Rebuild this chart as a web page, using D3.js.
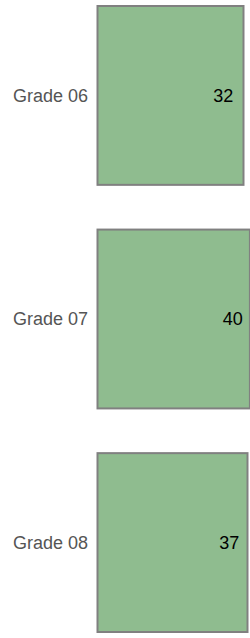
<!DOCTYPE html>
<html>
<head>
<meta charset="utf-8">
<script src="https://cdn.jsdelivr.net/npm/d3@7"></script>
<style>
  body { margin: 0; background: #fff; }
  svg { display: block; font-family: "Liberation Sans", Arial, sans-serif; }
</style>
</head>
<body>
<div id="chart"></div>
<script>
const grades = ["Grade 06", "Grade 07", "Grade 08"];
const counts = [32, 40, 37];

const width = 250, height = 638;
const barLeft = 97.5;

const svg = d3.select("#chart")
    .append("svg")
    .attr("width", width)
    .attr("height", height);

const y = d3.scaleBand()
    .domain(grades)
    .range([6, 632])
    .paddingInner(0.2)
    .paddingOuter(0);

// bar end position
const x = d3.scaleLinear()
    .domain([0, 40])
    .range([217.9, 249.9]);

// value label right edge
const xl = d3.scaleLinear()
    .domain([0, 40])
    .range([195.7, 242.7]);

const data = grades.map((g, i) => ({ grade: g, count: counts[i] }));

svg.selectAll("rect.bar")
    .data(data)
    .join("rect")
    .attr("class", "bar")
    .attr("x", barLeft)
    .attr("y", d => y(d.grade))
    .attr("width", d => x(d.count) - barLeft)
    .attr("height", y.bandwidth())
    .style("fill", "darkseagreen")
    .style("stroke", "#808080")
    .style("stroke-width", 2);

svg.selectAll("text.val")
    .data(data)
    .join("text")
    .attr("class", "val")
    .attr("x", d => xl(d.count))
    .attr("y", d => y(d.grade) + y.bandwidth() / 2)
    .attr("dy", "0.35em")
    .style("text-anchor", "end")
    .style("font-size", "18px")
    .style("fill", "#000")
    .text(d => d.count);

svg.selectAll("text.cat")
    .data(data)
    .join("text")
    .attr("class", "cat")
    .attr("x", 88)
    .attr("y", d => y(d.grade) + y.bandwidth() / 2)
    .attr("dy", "0.35em")
    .style("text-anchor", "end")
    .style("font-size", "18px")
    .style("fill", "#555")
    .text(d => d.grade);
</script>
</body>
</html>
